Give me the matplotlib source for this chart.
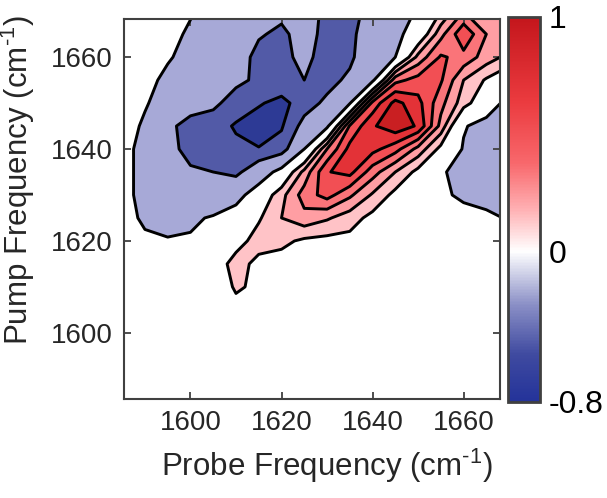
import numpy as np
import matplotlib
matplotlib.use('Agg')
import matplotlib.pyplot as plt
from matplotlib.colors import LinearSegmentedColormap, FuncNorm
from matplotlib.cm import ScalarMappable

plt.rcParams['font.family'] = ['Liberation Sans', 'DejaVu Sans']
plt.rcParams['mathtext.fontset'] = 'custom'
plt.rcParams['mathtext.rm'] = 'Liberation Sans'
plt.rcParams['contour.negative_linestyle'] = 'solid'

# grid of the 2D spectrum (cm-1)
probe_freq = [1585, 1590, 1595, 1600, 1605, 1610, 1615, 1620, 1625,
              1630, 1635, 1640, 1645, 1650, 1655, 1660, 1665, 1670]
pump_freq = [1585, 1590, 1595, 1600, 1605, 1610, 1615, 1620, 1625,
             1630, 1635, 1640, 1645, 1650, 1655, 1660, 1665, 1670]

# normalised signal, one row per pump frequency
row_1585 = [0, 0, 0, 0, 0, 0, 0, 0, 0, 0, 0, 0, 0, 0, 0, 0, 0, 0]
row_1590 = [0, 0, 0, 0, 0, 0, 0, 0, 0, 0, 0, 0, 0, 0, 0, 0, 0, 0]
row_1595 = [0, 0, 0, 0, 0, 0, 0, 0, 0, 0, 0, 0, 0, 0, 0, 0, 0, 0]
row_1600 = [0, 0, 0, 0, 0.01, 0.03, 0.02, 0.01, 0, 0, 0, 0, 0, 0, 0, 0, 0, 0]
row_1605 = [0, 0, 0, 0, 0.02, 0.10, 0.06, 0.03, 0.02, 0.01, 0, 0, 0, 0, 0, 0, 0, 0]
row_1610 = [0, 0, 0, -0.02, 0.04, 0.17, 0.12, 0.06, 0.04, 0.03, 0.02, 0.01, 0, 0, 0, 0, 0, 0]
row_1615 = [0, -0.02, -0.04, -0.05, 0.04, 0.22, 0.10, 0.08, 0.08, 0.06, 0.04, 0.02, 0.01, 0, 0, 0, 0, 0]
row_1620 = [-0.02, -0.10, -0.13, -0.12, -0.06, 0.08, 0.22, 0.19, 0.12, 0.10, 0.10, 0.05, 0.02, 0, 0, 0, 0, 0]
row_1625 = [-0.04, -0.20, -0.25, -0.20, -0.12, -0.02, 0.13, 0.30, 0.40, 0.32, 0.22, 0.10, 0.04, 0, -0.02, -0.05, -0.10, -0.17]
row_1630 = [-0.02, -0.28, -0.38, -0.42, -0.40, -0.25, 0.0, 0.25, 0.52, 0.66, 0.48, 0.28, 0.10, 0.0, -0.10, -0.20, -0.24, -0.24]
row_1635 = [-0.02, -0.28, -0.42, -0.48, -0.50, -0.56, -0.32, -0.05, 0.35, 0.74, 0.80, 0.52, 0.30, 0.10, -0.12, -0.24, -0.28, -0.28]
row_1640 = [-0.02, -0.28, -0.45, -0.55, -0.60, -0.66, -0.69, -0.62, -0.15, 0.45, 0.80, 0.80, 0.66, 0.40, 0.10, -0.17, -0.25, -0.26]
row_1645 = [0.0, -0.20, -0.45, -0.58, -0.62, -0.72, -0.80, -0.72, -0.42, -0.20, 0.62, 0.88, 1.00, 0.88, 0.40, -0.13, -0.24, -0.25]
row_1650 = [0.0, -0.12, -0.30, -0.40, -0.45, -0.60, -0.68, -0.76, -0.60, -0.45, -0.17, 0.65, 0.95, 0.80, 0.50, 0.22, 0.0, -0.24]
row_1655 = [0.02, -0.06, -0.22, -0.30, -0.36, -0.45, -0.54, -0.56, -0.50, -0.58, -0.45, -0.20, 0.55, 0.66, 0.62, 0.30, 0.13, 0.0]
row_1660 = [0.04, 0.0, -0.12, -0.25, -0.30, -0.40, -0.56, -0.55, -0.45, -0.58, -0.55, -0.30, -0.15, 0.35, 0.62, 0.55, 0.38, 0.25]
row_1665 = [0.05, 0.02, -0.05, -0.20, -0.28, -0.35, -0.48, -0.54, -0.42, -0.56, -0.54, -0.40, -0.22, -0.02, 0.40, 0.72, 0.45, 0.32]
row_1670 = [0.05, 0.04, 0.0, -0.12, -0.25, -0.30, -0.40, -0.45, -0.40, -0.55, -0.55, -0.45, -0.30, -0.12, 0.15, 0.45, 0.45, 0.35]

signal = np.array([row_1585, row_1590, row_1595, row_1600, row_1605, row_1610,
                   row_1615, row_1620, row_1625, row_1630, row_1635, row_1640,
                   row_1645, row_1650, row_1655, row_1660, row_1665, row_1670])

levels = [-1.0, -0.7, -0.5, -0.15, 0.15, 0.3, 0.45, 0.6, 0.75, 0.9, 1.2]
band_colors = ['#2d3a95', '#525aa7', '#a7a9d7', '#ffffff', '#ffc3c7',
               '#ff9ea3', '#fa7479', '#f24f54', '#e33237', '#c91f22']

cbar_ticks = [-0.8, 0, 1]
cbar_ticklabels = ['-0.8', '0', '1']

text_color = '#262626'
axis_color = '#404040'

fig = plt.figure(figsize=(6.07, 4.98), dpi=100)
ax = fig.add_axes([124 / 607, 1 - 399 / 498, 376 / 607, 380 / 498])
cax = fig.add_axes([508 / 607, 1 - 401.5 / 498, 32 / 607, 384.5 / 498])

X, Y = np.meshgrid(probe_freq, pump_freq)
ax.contourf(X, Y, signal, levels=levels, colors=band_colors)
ax.contour(X, Y, signal, levels=levels[1:-1], colors='black',
           linewidths=2.1, linestyles='solid')

ax.set_xlim(1585.4, 1668)
ax.set_ylim(1585.6, 1668.3)
ax.set_xticks([1600, 1620, 1640, 1660])
ax.set_yticks([1600, 1620, 1640, 1660])
ax.tick_params(direction='in', top=True, right=True, length=5, width=1.3,
               color=axis_color, labelsize=20, labelcolor=text_color, pad=8)
for spine in ax.spines.values():
    spine.set_color(axis_color)
    spine.set_linewidth(1.5)

ax.set_xlabel('Probe Frequency (cm$^{\\text{-1}}$)', fontsize=22.5, color=text_color)
ax.set_ylabel('Pump Frequency (cm$^{\\text{-1}}$)', fontsize=22.5, color=text_color)
ax.xaxis.set_label_coords(0.54, -0.125)
ax.yaxis.set_label_coords(-0.232, 0.575)

# colour bar: white sits a bit below the middle of the bar
cmap = LinearSegmentedColormap.from_list('bwr2d', [
    (0.0, '#24339a'), (0.12, '#3f4aa0'), (0.25, '#8a8fc6'), (0.39, '#ffffff'),
    (0.5, '#ffb0b3'), (0.62, '#f8686c'), (0.78, '#eb3b3f'), (1.0, '#c4161c')])


def cb_forward(v):
    return np.interp(v, [-0.8, 0, 1], [0, 0.39, 1])


def cb_inverse(p):
    return np.interp(p, [0, 0.39, 1], [-0.8, 0, 1])


norm = FuncNorm((cb_forward, cb_inverse), vmin=-0.8, vmax=1)
cbar = fig.colorbar(ScalarMappable(norm=norm, cmap=cmap), cax=cax, ticks=cbar_ticks)
cbar.ax.set_yticklabels(cbar_ticklabels)
cbar.ax.tick_params(length=0, labelsize=23, pad=6, labelcolor='black')
cbar.outline.set_edgecolor(axis_color)
cbar.outline.set_linewidth(2)

fig.savefig('out.png', dpi=100)
